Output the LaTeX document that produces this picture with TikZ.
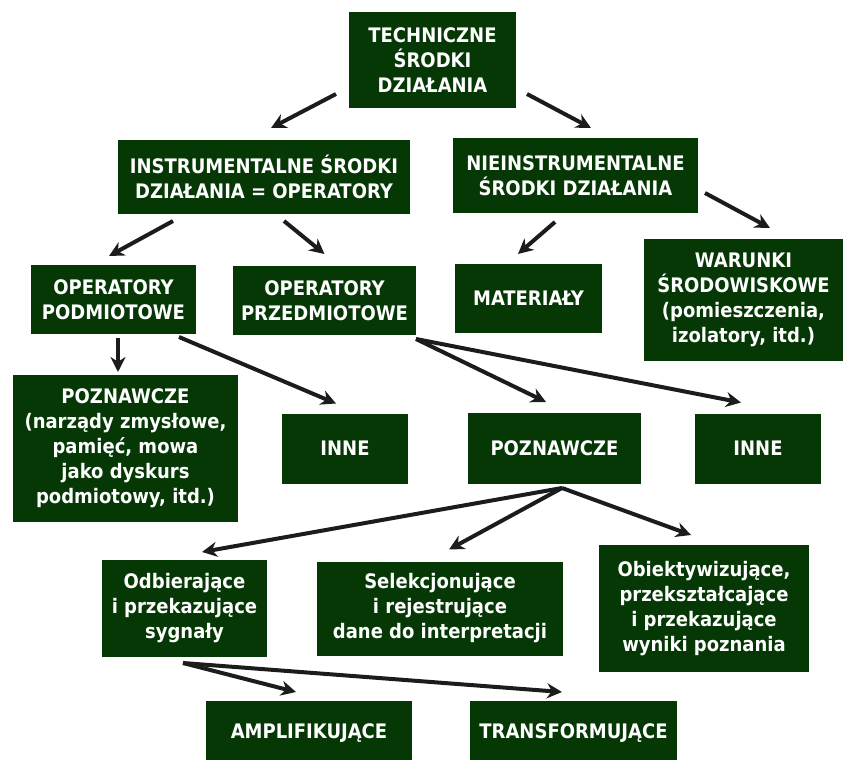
\documentclass[tikz,border=0pt]{standalone}
\usepackage{fontspec}
\setmainfont{DejaVu Sans Condensed}
\usetikzlibrary{arrows.meta, positioning}
\definecolor{boxgreen}{RGB}{6,56,6}
\definecolor{arrowgray}{RGB}{28,28,28}

\begin{document}
\begin{tikzpicture}[
  x = 1pt, y = -1pt,                       % one unit = one pixel, y going down
  > = {Stealth[length=15pt, width=15pt]},  % arrow head style
  line width = 4pt,                        % thick arrows
  node distance = 30pt                     % distance between nodes
  ]

  \tikzstyle{B1}=[      % Defines style for green Box
  fill = boxgreen,
  text = white,
  font = \fontsize{20}{25}\selectfont\bfseries,
  align = center,
  inner sep = 0pt,
  outer sep = 0pt
  ]

  \tikzstyle{A1}=[      % Defines style for Arrow
  ->,
  draw = arrowgray
  ]

  \useasboundingbox (0,0) rectangle (843,760);

  % Definition of the nodes
  % \node[style, size] (name) [relative_position, shift] {Text};
  \node[B1, minimum width=167pt, minimum height=96pt] (tech) at (432.5,60) {TECHNICZNE\\ŚRODKI\\DZIAŁANIA};

  \node[B1, minimum width=292pt, minimum height=74pt] (instr) [below=32pt of tech, xshift=-168.5pt] {INSTRUMENTALNE ŚRODKI\\DZIAŁANIA = OPERATORY};
  \node[B1, minimum width=245pt, minimum height=75pt] (nieinstr) [below=30pt of tech, xshift=143pt] {NIEINSTRUMENTALNE\\ŚRODKI DZIAŁANIA};

  \node[B1, minimum width=165pt, minimum height=69pt] (oppodm) [below=51pt of instr, xshift=-150.5pt] {OPERATORY\\PODMIOTOWE};
  \node[B1, minimum width=183pt, minimum height=69pt] (opprzed) [below=52pt of instr, xshift=60.5pt] {OPERATORY\\PRZEDMIOTOWE};
  \node[B1, minimum width=147pt, minimum height=69pt] (mater) [below=51pt of nieinstr, xshift=-47pt] {MATERIAŁY};
  \node[B1, minimum width=199pt, minimum height=122pt] (warunki) [below=26pt of nieinstr, xshift=168pt] {WARUNKI\\ŚRODOWISKOWE\\(pomieszczenia,\\izolatory, itd.)};

  \node[B1, minimum width=225pt, minimum height=147pt] (poznpodm) [below=41pt of oppodm, xshift=12pt] {POZNAWCZE\\(narządy zmysłowe,\\pamięć, mowa\\jako dyskurs\\podmiotowy, itd.)};
  \node[B1, minimum width=126pt, minimum height=70pt] (innepodm) [right=44pt of poznpodm] {INNE};
  \node[B1, minimum width=173pt, minimum height=71pt] (poznprzed) [right=60pt of innepodm] {POZNAWCZE};
  \node[B1, minimum width=126pt, minimum height=70pt] (inneprzed) [right=54pt of poznprzed] {INNE};

  \node[B1, minimum width=165pt, minimum height=97pt] (odbier) [below=38pt of poznpodm, xshift=59pt] {Odbierające\\i przekazujące\\sygnały};
  \node[B1, minimum width=246pt, minimum height=94pt] (selekc) [right=50pt of odbier] {Selekcjonujące\\i rejestrujące\\dane do interpretacji};
  \node[B1, minimum width=210pt, minimum height=127pt] (obiekt) [right=36pt of selekc] {Obiektywizujące,\\przekształcające\\i przekazujące\\wyniki poznania};

  \node[B1, minimum width=206pt, minimum height=64pt] (amplif) [below=44pt of odbier, xshift=124.5pt] {AMPLIFIKUJĄCE};
  \node[B1, minimum width=207pt, minimum height=64pt] (transf) [right=58pt of amplif] {TRANSFORMUJĄCE};

  % Arrows, ends shifted off the boxes
  \path ([shift={(-13,-14)}]tech.south west) edge[A1] ([shift={(7,-12)}]instr.north);
  \path ([shift={(11,-14)}]tech.south east) edge[A1] ([shift={(15.5,-10)}]nieinstr.north);
  \path ([shift={(-91,7)}]instr.south) edge[A1] ([shift={(-4.5,-9)}]oppodm.north);
  \path ([shift={(20,7)}]instr.south) edge[A1] ([shift={(0,-12)}]opprzed.north);
  \path ([shift={(-20.5,9)}]nieinstr.south) edge[A1] ([shift={(-10.5,-10)}]mater.north);
  \path ([shift={(7,17.5)}]nieinstr.east) edge[A1] ([shift={(26.5,-11)}]warunki.north);
  \path ([shift={(4.5,4)}]oppodm.south) edge[A1] ([shift={(-7.5,-3)}]poznpodm.north);
  \path ([shift={(-17,3)}]oppodm.south east) edge[A1] ([shift={(-9,-10)}]innepodm.north);
  \path ([shift={(0,4)}]opprzed.south east) edge[A1] ([shift={(-8.5,-11)}]poznprzed.north);
  \path ([shift={(0,4)}]opprzed.south east) edge[A1] ([shift={(-17,-11)}]inneprzed.north);
  \path ([shift={(7.5,4)}]poznprzed.south) edge[A1] ([shift={(17.5,-8)}]odbier.north);
  \path ([shift={(7.5,4)}]poznprzed.south) edge[A1] ([shift={(9,-12)}]selekc.north);
  \path ([shift={(7.5,4)}]poznprzed.south) edge[A1] ([shift={(-13,-10)}]obiekt.north);
  \path ([shift={(-1.5,6)}]odbier.south) edge[A1] ([shift={(-13,-9)}]amplif.north);
  \path ([shift={(-1.5,6)}]odbier.south) edge[A1] ([shift={(-11.5,-9)}]transf.north);
\end{tikzpicture}
\end{document}
